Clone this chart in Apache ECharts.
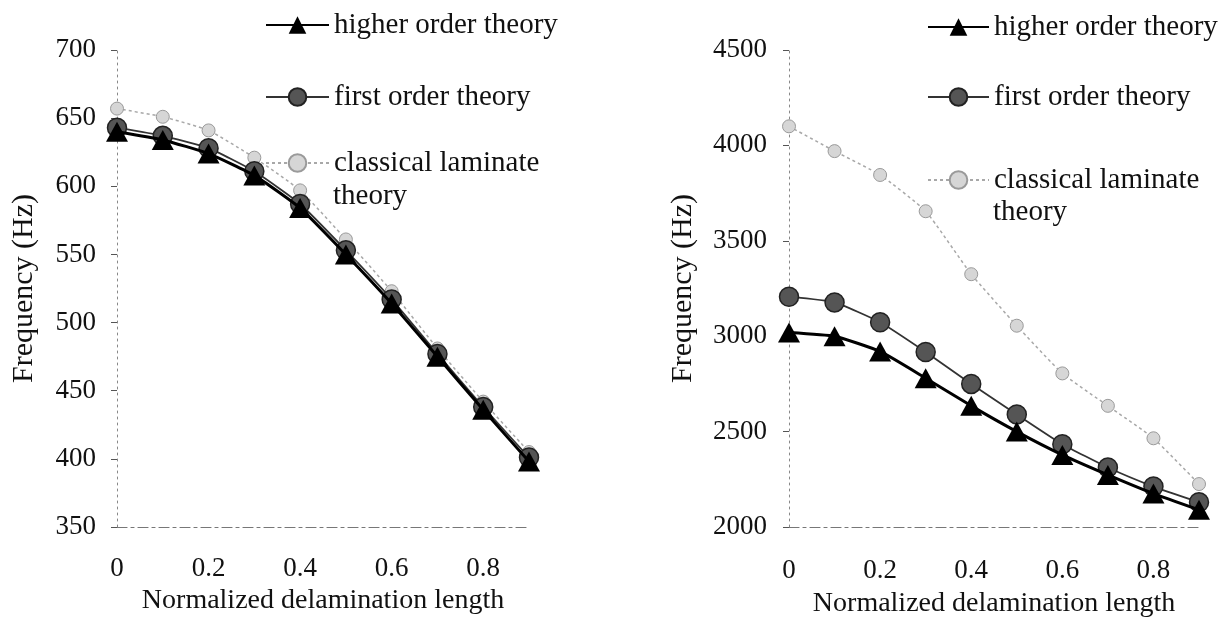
<!DOCTYPE html>
<html>
<head>
<meta charset="utf-8">
<script src="https://cdn.jsdelivr.net/npm/echarts@6/dist/echarts.min.js"></script>
<style>
html,body{margin:0;padding:0;background:#fff;}
#chart{width:1225px;height:623px;}
</style>
</head>
<body>
<div id="chart"></div>
<script>
// ---- data ----
const xValues = [0, 0.1, 0.2, 0.3, 0.4, 0.5, 0.6, 0.7, 0.8, 0.9];
const seriesNames = ['higher order theory', 'first order theory', 'classical laminate theory'];
// left panel
const leftHigher = [640, 634, 624, 608, 584, 550, 514, 475, 436, 398];
const leftFirst = [643, 637, 628, 611, 587, 553, 517, 477, 438, 401];
const leftClassical = [657, 651, 641, 621, 597, 561, 523, 481, 442, 405];
// right panel
const rightHigher = [3020, 3000, 2920, 2780, 2635, 2500, 2378, 2273, 2175, 2090];
const rightFirst = [3207, 3177, 3073, 2917, 2750, 2590, 2434, 2312, 2212, 2130];
const rightClassical = [4100, 3970, 3845, 3655, 3325, 3055, 2805, 2635, 2465, 2225];
const xTickLabels = ['0', '0.2', '0.4', '0.6', '0.8'];
const yAxisName = 'Frequency (Hz)';
const xAxisName = 'Normalized delamination length';
const legendLine1 = 'classical laminate';
const legendLine2 = 'theory';

const FONT = 'Liberation Serif';
const pair = arr => xValues.map((x, i) => [x, arr[i]]);

function styles(name) {
  if (name === seriesNames[0]) return {
    symbol: 'triangle', symbolSize: [22, 20],
    lineStyle: {color: '#000', width: 3},
    itemStyle: {color: '#000'}
  };
  if (name === seriesNames[1]) return {
    symbol: 'circle', symbolSize: 19,
    lineStyle: {color: '#333', width: 1.8},
    itemStyle: {color: '#555', borderColor: '#222', borderWidth: 1.5}
  };
  return {
    symbol: 'circle', symbolSize: 13,
    lineStyle: {color: '#a8a8a8', width: 1.5, type: [3, 3]},
    itemStyle: {color: '#d6d6d6', borderColor: '#9a9a9a', borderWidth: 1}
  };
}

function mkSeries(name, data, idx) {
  const s = styles(name);
  return Object.assign({
    type: 'line', name: name, data: pair(data),
    xAxisIndex: idx, yAxisIndex: idx,
    smooth: 0.15, showSymbol: true, z: name === seriesNames[0] ? 5 : (name === seriesNames[1] ? 4 : 3),
    animation: false
  }, s);
}

function xAxis(idx, margin, nameGap) {
  return {
    type: 'value', gridIndex: idx, min: 0, max: 0.9, interval: 0.2,
    name: xAxisName, nameLocation: 'middle', nameGap: nameGap,
    nameTextStyle: {fontFamily: FONT, fontSize: 28, color: '#111'},
    axisLine: {show: true, lineStyle: {color: '#777', width: 1.2, type: [10, 4, 3, 4]}},
    axisTick: {show: false},
    splitLine: {show: false},
    axisLabel: {
      fontFamily: FONT, fontSize: 27, color: '#111', margin: margin,
      showMaxLabel: false,
      formatter: v => {
        const i = Math.round(v * 5);
        return (Math.abs(v * 5 - i) < 1e-6 && i < xTickLabels.length) ? xTickLabels[i] : '';
      }
    }
  };
}

function yAxis(idx, min, max, interval, nameGap, margin) {
  return {
    type: 'value', gridIndex: idx, min: min, max: max, interval: interval,
    name: yAxisName, nameLocation: 'middle', nameGap: nameGap,
    nameTextStyle: {fontFamily: FONT, fontSize: 30, color: '#111'},
    axisLine: {show: true, lineStyle: {color: '#888', width: 1, type: [2, 4]}},
    axisTick: {show: true, length: 6, lineStyle: {color: '#555', width: 1}},
    splitLine: {show: false},
    axisLabel: {fontFamily: FONT, fontSize: 27, color: '#111', margin: margin,
      formatter: v => String(v)}
  };
}

function legend(name, left, top, width) {
  return {
    data: [name], left: left, top: top, orient: 'vertical',
    itemWidth: width, itemHeight: 22, itemGap: 0, padding: 0,
    selectedMode: false,
    formatter: n => n === seriesNames[2] ? legendLine1 : n,
    textStyle: {fontFamily: FONT, fontSize: 29, color: '#111', lineHeight: 34}
  };
}

function extraText(x, y) {
  return {
    type: 'text', left: x, top: y,
    style: {text: legendLine2, font: '29px "' + FONT + '"', fill: '#111'}
  };
}

const chart = echarts.init(document.getElementById('chart'), null, {renderer: 'canvas'});
chart.setOption({
  backgroundColor: '#fff',
  animation: false,
  grid: [
    {left: 117, width: 412, top: 50, height: 477},
    {left: 789, width: 410, top: 50, height: 480}
  ],
  xAxis: [xAxis(0, 28, 59), xAxis(1, 30, 63)],
  yAxis: [yAxis(0, 350, 700, 50, 78, 21), yAxis(1, 2000, 4500, 500, 91, 22)],
  legend: [
    legend(seriesNames[0], 265, 8, 63),
    legend(seriesNames[1], 265, 80, 63),
    legend(seriesNames[2], 265, 146, 63),
    legend(seriesNames[0], 927, 10, 61),
    legend(seriesNames[1], 927, 80, 61),
    legend(seriesNames[2], 927, 163, 61)
  ],
  graphic: [extraText(333, 182), extraText(993, 198)],
  series: [
    mkSeries(seriesNames[2], leftClassical, 0),
    mkSeries(seriesNames[1], leftFirst, 0),
    mkSeries(seriesNames[0], leftHigher, 0),
    mkSeries(seriesNames[2], rightClassical, 1),
    mkSeries(seriesNames[1], rightFirst, 1),
    mkSeries(seriesNames[0], rightHigher, 1)
  ]
});
</script>
</body>
</html>
